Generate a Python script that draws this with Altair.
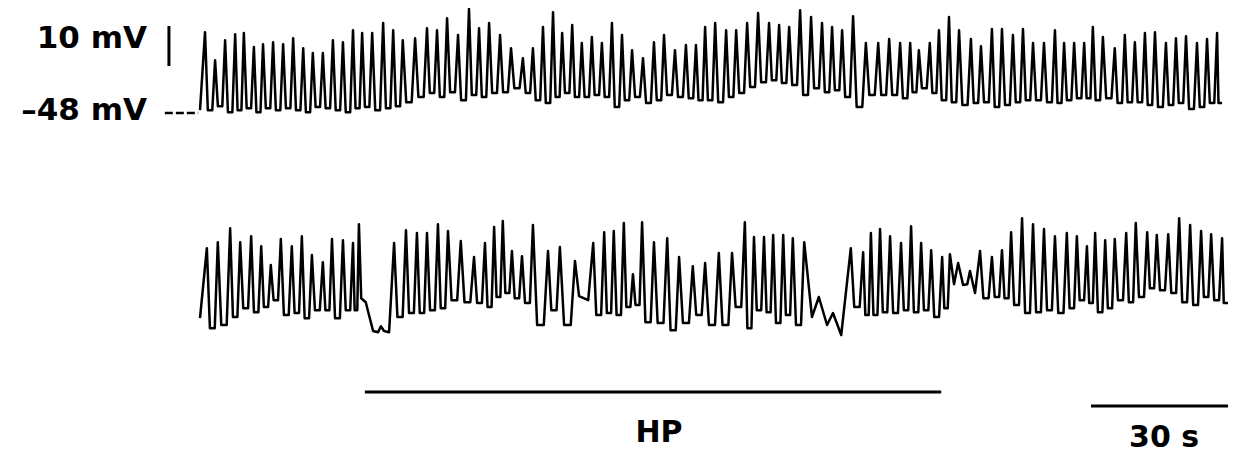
import altair as alt
import pandas as pd

# ---------------- data (time in s, membrane potential in mV) ----------------
TOP_START = (0.0, -47.3)
TOP_END_T = 223.8
TOP_PEAK_T = [1.1, 3.3, 5.5, 7.7, 9.6, 11.8, 13.8, 16.0, 18.2, 20.4, 22.6, 24.7, 26.9, 29.1, 31.3, 33.5, 35.5, 37.7, 40.1, 42.3,
              44.4, 47.1, 49.7, 51.9, 54.1, 56.5, 58.9, 61.1, 63.3, 65.7, 68.1, 70.7, 72.9, 75.1, 77.3, 79.3, 81.5, 83.6, 85.8, 88.0,
              90.2, 92.4, 94.6, 97.0, 99.4, 101.6, 104.0, 106.4, 108.6, 110.6, 112.8, 115.2, 117.4, 119.8, 122.2, 124.6, 126.8, 129.0, 131.4,
              133.8, 136.2, 138.4, 140.6, 143.0, 145.8, 148.5, 150.9, 153.3, 155.5, 157.4, 159.8, 161.8, 164.0, 166.2, 168.8, 171.0, 173.4,
              175.6, 178.0, 180.2, 182.4, 184.8, 187.2, 189.2, 191.4, 193.6, 195.5, 197.7, 200.3, 202.5, 204.7, 206.9, 209.1, 211.5, 213.7,
              215.9, 218.3, 220.5, 222.7]
TOP_PEAK_MV = [-27.8, -34.8, -29.8, -28.3, -28.0, -31.5, -30.8, -30.3, -30.8, -29.3, -31.8, -33.0, -33.0, -29.8, -30.3, -27.3, -28.0, -28.0, -25.5, -27.3,
               -29.8, -29.3, -26.8, -27.3, -24.3, -28.5, -22.0, -26.8, -25.5, -28.5, -31.8, -34.3, -31.8, -26.5, -22.8, -28.0, -26.0, -30.5, -29.0, -30.5,
               -25.5, -28.5, -32.3, -34.3, -30.3, -28.5, -32.3, -31.0, -31.0, -26.5, -25.5, -27.3, -27.3, -25.5, -23.0, -25.5, -26.0, -26.5, -22.3,
               -24.0, -25.5, -26.5, -27.3, -23.8, -30.5, -30.5, -29.5, -30.5, -30.5, -32.3, -30.5, -27.3, -24.0, -27.3, -29.5, -31.3, -27.0,
               -27.0, -28.5, -27.0, -30.5, -30.5, -27.3, -30.5, -30.5, -30.5, -26.5, -29.0, -31.8, -28.5, -30.3, -28.0, -27.8, -30.5, -29.3,
               -28.8, -30.5, -29.5, -28.0]
TOP_TROUGH_MV = [-47.3, -46.3, -47.8, -47.3, -46.8, -47.8, -46.8, -47.3, -46.8, -47.3, -47.8, -46.5, -46.8, -47.3, -47.8, -46.8, -46.5, -47.3, -46.8, -46.3,
                 -45.3, -44.0, -43.0, -44.0, -42.8, -44.8, -43.5, -44.0, -43.0, -42.8, -41.8, -43.0, -44.8, -45.5, -44.0, -43.0, -44.0, -44.0, -43.5, -44.0,
                 -46.5, -44.8, -44.0, -45.5, -44.8, -43.5, -44.0, -44.3, -44.8, -44.8, -45.3, -44.0, -43.0, -41.5, -40.3, -39.8, -40.5, -41.0, -43.5,
                 -41.8, -42.8, -42.3, -44.0, -46.5, -43.5, -43.5, -43.5, -44.3, -42.8, -41.8, -43.0, -44.8, -45.3, -46.0, -45.5, -45.3, -46.5,
                 -46.0, -45.3, -44.8, -44.8, -45.3, -45.5, -44.8, -44.3, -44.3, -44.8, -44.3, -45.5, -45.3, -45.3, -46.0, -46.5, -46.0, -45.5,
                 -47.0, -46.5, -45.5, -45.5]

BOT_START = (0.0, -46.8)
BOT_END_T = 225.1
BOT_PEAK_T = [1.5, 3.9, 6.6, 8.8, 11.2, 13.4, 15.5, 17.7, 20.1, 22.3, 24.5, 26.9, 28.9, 31.3, 33.5, 34.8,
              42.5, 45.1, 47.5, 49.7, 52.1, 54.3, 57.1, 60.0, 62.4, 64.4, 66.3, 68.3, 70.5, 72.9, 76.2, 78.8, 82.1, 86.1,
              88.5, 90.6, 92.8, 94.8, 96.8, 99.4, 102.3, 104.9, 107.9, 110.6, 113.6, 116.5, 119.3, 121.3, 123.5, 125.5, 127.7, 129.8, 132.3,
              142.5, 145.2, 146.9, 148.9, 151.1, 153.5, 155.7, 157.9, 160.1, 162.5, 164.2,
              170.8, 173.4, 175.6, 177.6, 180.0, 182.4, 184.8, 187.2, 189.8, 192.0, 194.2, 196.0, 198.2, 200.3, 202.8, 204.9, 207.4,
              209.5, 212.0, 214.4, 216.8, 219.2, 221.4, 223.8]
BOT_PEAK_MV = [-29.3, -27.8, -24.3, -27.8, -26.3, -28.8, -33.5, -27.0, -28.8, -26.3, -31.0, -32.8, -27.0, -27.3, -28.0, -23.3,
               -28.0, -24.8, -25.5, -25.5, -23.3, -25.0, -27.5, -31.5, -28.0, -24.0, -22.5, -30.0, -31.3, -23.5, -30.0, -29.0, -32.5, -28.0,
               -25.3, -25.0, -23.0, -35.8, -22.8, -27.8, -26.8, -31.5, -33.8, -33.0, -30.5, -30.5, -22.8, -26.5, -26.5, -26.0, -26.0, -26.8, -27.8,
               -29.3, -30.3, -25.5, -24.5, -26.3, -28.0, -23.8, -28.0, -29.8, -31.5, -30.8,
               -30.0, -31.5, -29.8, -25.3, -21.8, -23.3, -24.5, -26.3, -25.5, -26.3, -28.8, -25.5, -27.3, -27.0, -25.5, -23.0, -25.3,
               -26.0, -25.8, -21.8, -23.5, -25.0, -25.8, -26.8]
BOT_TROUGH_MV = [-49.3, -48.5, -46.5, -44.3, -45.3, -44.0, -42.3, -46.0, -45.5, -46.8, -44.8, -44.8, -46.8, -44.8, -44.8, None,
                 -46.5, -45.5, -45.5, -44.8, -44.3, -42.3, -42.8, -43.0, -44.0, -41.5, -40.5, -41.8, -43.0, -48.5, -44.8, -48.5, None, -46.0,
                 -45.5, -46.0, -44.0, -43.5, -47.8, -48.0, -49.8, -48.0, -46.0, -48.5, -48.5, -44.0, -49.3, -44.8, -45.3, -48.0, -46.0, -48.5, None,
                 -44.0, -46.0, -46.0, -45.3, -45.5, -44.8, -45.3, -44.8, -46.5, -44.3, None,
                 -41.8, -41.5, -41.8, -43.5, -45.5, -45.3, -44.8, -45.5, -44.3, -42.3, -43.0, -45.3, -44.3, -42.3, -42.8, -41.5, -39.3,
                 -39.8, -40.5, -42.8, -43.5, -41.5, -42.3, -43.0]
# pauses / plateaus of the bottom trace (hyperpolarising pulses)
BOT_PAUSE_T = [35.3, 36.3, 37.0, 37.9, 39.0, 39.6, 40.3, 41.4,
               83.0, 85.0,
               134.0, 135.5, 137.3, 138.6, 140.4,
               165.1, 166.0, 167.1, 168.0, 168.6, 169.7]
BOT_PAUSE_MV = [-41.8, -42.8, -46.0, -50.0, -50.3, -48.8, -50.0, -50.3,
                -41.3, -42.3,
                -46.5, -41.5, -48.5, -45.5, -51.0,
                -38.3, -33.0, -38.5, -38.3, -35.0, -40.5]

# annotations
SCALE_MV = [-36.25, -26.25]      # 10 mV calibration bar
SCALE_T = -6.8
RESTING_MV = -48.0
RESTING_T = [-7.7, -0.4]
HP_T = [36.1, 162.3]
HP_MV = -65.25
TIME_BAR_T = [195.1, 225.1]      # 30 s
TIME_BAR_MV = -68.75

X_DOMAIN = [-42.04, 225.53]
TOP_DOMAIN = [-133.25, -21.75]
BOT_DOMAIN = [-80.75, 30.75]


def build(start, peak_t, peak_mv, trough_mv, end_t, extra_t=(), extra_mv=()):
    pts = [start]
    n = len(peak_t)
    for i in range(n):
        pts.append((peak_t[i], peak_mv[i]))
        if trough_mv[i] is None:
            continue
        nxt = peak_t[i + 1] if i + 1 < n else end_t
        d = nxt - peak_t[i]
        pts.append((peak_t[i] + 0.28 * d, trough_mv[i]))
        pts.append((peak_t[i] + 0.72 * d, trough_mv[i]))
    pts.append((end_t, trough_mv[-1]))
    pts += list(zip(extra_t, extra_mv))
    pts.sort(key=lambda p: p[0])
    return pd.DataFrame({"t": [p[0] for p in pts], "mv": [p[1] for p in pts],
                         "o": list(range(len(pts)))})


top_df = build(TOP_START, TOP_PEAK_T, TOP_PEAK_MV, TOP_TROUGH_MV, TOP_END_T)
bot_df = build(BOT_START, BOT_PEAK_T, BOT_PEAK_MV, BOT_TROUGH_MV, BOT_END_T, BOT_PAUSE_T, BOT_PAUSE_MV)

xs = alt.Scale(domain=X_DOMAIN, nice=False, zero=False)
ys_top = alt.Scale(domain=TOP_DOMAIN, nice=False, zero=False)
ys_bot = alt.Scale(domain=BOT_DOMAIN, nice=False, zero=False)
FONT = dict(font="DejaVu Sans", fontWeight="bold", color="black")

top_trace = alt.Chart(top_df).mark_line(color="black", strokeWidth=2.5, strokeJoin="round").encode(
    x=alt.X("t:Q", scale=xs, axis=None), y=alt.Y("mv:Q", scale=ys_top, axis=None), order="o:Q")

cal = alt.Chart(pd.DataFrame({"t": [SCALE_T], "a": [SCALE_MV[0]], "b": [SCALE_MV[1]]})).mark_rule(
    color="black", strokeWidth=3).encode(
    x=alt.X("t:Q", scale=xs, axis=None), y=alt.Y("a:Q", scale=ys_top, axis=None), y2="b:Q")

rest = alt.Chart(pd.DataFrame({"a": [RESTING_T[0]], "b": [RESTING_T[1]], "v": [RESTING_MV]})).mark_rule(
    color="black", strokeWidth=2.5, strokeDash=[8, 3]).encode(
    x=alt.X("a:Q", scale=xs, axis=None), x2="b:Q", y=alt.Y("v:Q", scale=ys_top, axis=None))

top_labels = alt.Chart(pd.DataFrame({"t": [-11.6, -11.6], "v": [-31.75, -49.75],
                                     "txt": ["10 mV", "\u201348 mV"]})).mark_text(
    align="right", baseline="alphabetic", fontSize=31, **FONT).encode(
    x=alt.X("t:Q", scale=xs, axis=None), y=alt.Y("v:Q", scale=ys_top, axis=None), text="txt:N")

bot_trace = alt.Chart(bot_df).mark_line(color="black", strokeWidth=2.5, strokeJoin="round").encode(
    x=alt.X("t:Q", scale=xs, axis=None), y=alt.Y("mv:Q", scale=ys_bot, axis=None), order="o:Q")

bars = alt.Chart(pd.DataFrame({"a": [HP_T[0], TIME_BAR_T[0]], "b": [HP_T[1], TIME_BAR_T[1]],
                               "v": [HP_MV, TIME_BAR_MV]})).mark_rule(color="black", strokeWidth=3).encode(
    x=alt.X("a:Q", scale=xs, axis=None), x2="b:Q", y=alt.Y("v:Q", scale=ys_bot, axis=None))

bot_labels = alt.Chart(pd.DataFrame({"t": [100.5, 211.1], "v": [-77.75, -79.0],
                                     "txt": ["HP", "30 s"]})).mark_text(
    align="center", baseline="alphabetic", fontSize=30, **FONT).encode(
    x=alt.X("t:Q", scale=xs, axis=None), y=alt.Y("v:Q", scale=ys_bot, axis=None), text="txt:N")

top_layer = alt.layer(top_trace, cal, rest, top_labels)
bot_layer = alt.layer(bot_trace, bars, bot_labels)

chart = alt.layer(top_layer, bot_layer).resolve_scale(y="independent").properties(
    width=1222, height=446, padding=0,
    autosize=alt.AutoSizeParams(type="none"),
    background="white",
).configure_view(stroke=None)

chart.save("out.html", embed_options={"renderer": "svg", "actions": False})
